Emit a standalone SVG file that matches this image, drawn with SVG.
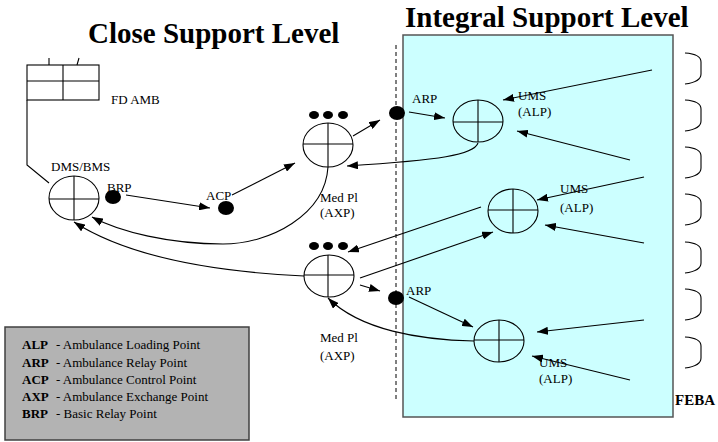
<svg xmlns="http://www.w3.org/2000/svg" width="718" height="442" viewBox="0 0 718 442">
<style>
text{font-family:'Liberation Serif','Tinos','Times New Roman','DejaVu Serif',serif}
.t{font-size:13px;fill:#000}
.ti{font-size:29px;font-weight:bold;fill:#000}
.lg{font-size:13px;fill:#000}
.b{font-weight:bold}
.ln{fill:none;stroke:#000;stroke-width:1.1}
.ar{fill:none;stroke:#000;stroke-width:1.1;marker-end:url(#ah)}
.nd{fill:none;stroke:#000;stroke-width:1.1}
.dot{fill:#000}
.br{fill:none;stroke:#000;stroke-width:1.1}
</style>
<defs>
<marker id="ah" markerUnits="userSpaceOnUse" markerWidth="12" markerHeight="8" refX="11" refY="4" orient="auto">
<path d="M0,0 L11,4 L0,8 z" fill="#000"/>
</marker>
</defs>
<rect width="718" height="442" fill="#fff"/>
<g id="integral-area">
<rect x="403" y="35" width="270" height="382" fill="#CCFFFF" stroke="#555" stroke-width="1.5"/>
</g>
<g id="titles">
<text class="ti" x="88" y="43">Close Support Level</text>
<text class="ti" x="405" y="27">Integral Support Level</text>
</g>
<g id="boundary">
<path d="M396,45 L396,402" fill="none" stroke="#000" stroke-width="1" stroke-dasharray="4,3"/>
</g>
<g id="feba-brackets">
<path class="br" d="M685,53 Q701,54 701,62 L701,74 Q701,82 685,84"/>
<path class="br" d="M685,100 Q701,101 701,109 L701,121 Q701,129 685,131"/>
<path class="br" d="M685,147 Q701,148 701,156 L701,168 Q701,176 685,178"/>
<path class="br" d="M685,194 Q701,195 701,203 L701,215 Q701,223 685,225"/>
<path class="br" d="M685,242 Q701,243 701,251 L701,263 Q701,271 685,273"/>
<path class="br" d="M685,289 Q701,290 701,298 L701,310 Q701,318 685,320"/>
<path class="br" d="M685,337 Q701,338 701,346 L701,358 Q701,366 685,368"/>
<text class="t b" x="675" y="405" style="font-size:15px">FEBA</text>
</g>
<g id="fd-amb">
<rect class="nd" x="27" y="65" width="72" height="35"/>
<path class="ln" d="M63,65 L63,100 M27,81 L99,81 M49,58 L49,65 M79,58 L77,65"/>
<text class="t" x="111" y="104">FD AMB</text>
</g>
<g id="dms-bms">
<ellipse class="nd" cx="74" cy="198" rx="25" ry="22"/>
<path class="ln" d="M74,176 L74,220 M49,199 L99,199"/>
<text class="t" x="51" y="171">DMS/BMS</text>
</g>
<g id="brp">
<ellipse class="dot" cx="113" cy="197" rx="8" ry="7"/>
<text class="t" x="107" y="192">BRP</text>
</g>
<g id="acp">
<ellipse class="dot" cx="226" cy="208" rx="8" ry="7"/>
<text class="t" x="206" y="200">ACP</text>
</g>
<g id="med-pl-upper">
<ellipse class="nd" cx="328" cy="145" rx="25" ry="22"/>
<path class="ln" d="M328,123 L328,167 M303,144 L353,144"/>
<ellipse class="dot" cx="314" cy="115" rx="5" ry="4"/>
<ellipse class="dot" cx="328" cy="115" rx="5" ry="4"/>
<ellipse class="dot" cx="343" cy="115" rx="5" ry="4"/>
<text class="t" x="320" y="202">Med Pl</text>
<text class="t" x="320" y="217">(AXP)</text>
</g>
<g id="med-pl-lower">
<ellipse class="nd" cx="329" cy="276" rx="25" ry="21"/>
<path class="ln" d="M328,255 L328,297 M304,275 L354,275"/>
<ellipse class="dot" cx="314" cy="246" rx="5" ry="4"/>
<ellipse class="dot" cx="328" cy="246" rx="5" ry="4"/>
<ellipse class="dot" cx="343" cy="246" rx="5" ry="4"/>
<text class="t" x="320" y="342">Med Pl</text>
<text class="t" x="320" y="360">(AXP)</text>
</g>
<g id="arp-upper">
<ellipse class="dot" cx="397" cy="113" rx="8" ry="7"/>
<text class="t" x="412" y="103">ARP</text>
</g>
<g id="arp-lower">
<ellipse class="dot" cx="396" cy="298" rx="8" ry="7"/>
<text class="t" x="406" y="295">ARP</text>
</g>
<g id="ums-upper">
<ellipse class="nd" cx="478" cy="121" rx="25" ry="21"/>
<path class="ln" d="M478,100 L478,142 M453,122 L503,122"/>
<text class="t" x="518" y="100">UMS</text>
<text class="t" x="518" y="116">(ALP)</text>
</g>
<g id="ums-middle">
<ellipse class="nd" cx="513" cy="211" rx="25" ry="22"/>
<path class="ln" d="M513,189 L513,233 M488,210 L538,210"/>
<text class="t" x="560" y="193">UMS</text>
<text class="t" x="560" y="212">(ALP)</text>
</g>
<g id="ums-lower">
<ellipse class="nd" cx="499" cy="341" rx="25" ry="21"/>
<path class="ln" d="M499,320 L499,362 M474,340 L524,340"/>
<text class="t" x="539" y="367">UMS</text>
<text class="t" x="539" y="383">(ALP)</text>
</g>
<g id="connectors">
<path class="ln" d="M27,100 L27,165 L49,183"/>
<path class="ar" d="M126,195 L210,208"/>
<path class="ar" d="M232,195 L295,163"/>
<path class="ar" d="M353,136 L380,120"/>
<path class="ar" d="M409,112 L445,118"/>
<path class="ar" d="M652,70 L503,100"/>
<path class="ar" d="M630,160 L517,131"/>
<path class="ar" d="M478,143 C474,155 440,160 347,166"/>
<path class="ar" d="M481,207 L348,252"/>
<path class="ar" d="M360,278 L493,232"/>
<path class="ar" d="M644,177 L537,200"/>
<path class="ar" d="M644,243 L545,225"/>
<path class="ar" d="M360,285 L380,291"/>
<path class="ar" d="M409,297 L473,327"/>
<path class="ar" d="M474,341 C420,340 360,330 328,298"/>
<path class="ar" d="M644,320 L537,332"/>
<path class="ar" d="M630,380 L532,356"/>
<path class="ar" d="M328,167 C325,215 270,244 223,244 C170,244 120,232 92,217"/>
<path class="ar" d="M304,276 C220,272 130,258 74,222"/>
</g>
<g id="legend">
<rect x="5" y="327" width="244" height="113" fill="#B3B3B3" stroke="#404040" stroke-width="1.5"/>
<text class="lg" x="22" y="349"><tspan class="b">ALP</tspan><tspan x="56">- Ambulance Loading Point</tspan></text>
<text class="lg" x="22" y="367"><tspan class="b">ARP</tspan><tspan x="56">- Ambulance Relay Point</tspan></text>
<text class="lg" x="22" y="384"><tspan class="b">ACP</tspan><tspan x="56">- Ambulance Control Point</tspan></text>
<text class="lg" x="22" y="401"><tspan class="b">AXP</tspan><tspan x="56">- Ambulance Exchange Point</tspan></text>
<text class="lg" x="22" y="418"><tspan class="b">BRP</tspan><tspan x="56">- Basic Relay Point</tspan></text>
</g>
</svg>
